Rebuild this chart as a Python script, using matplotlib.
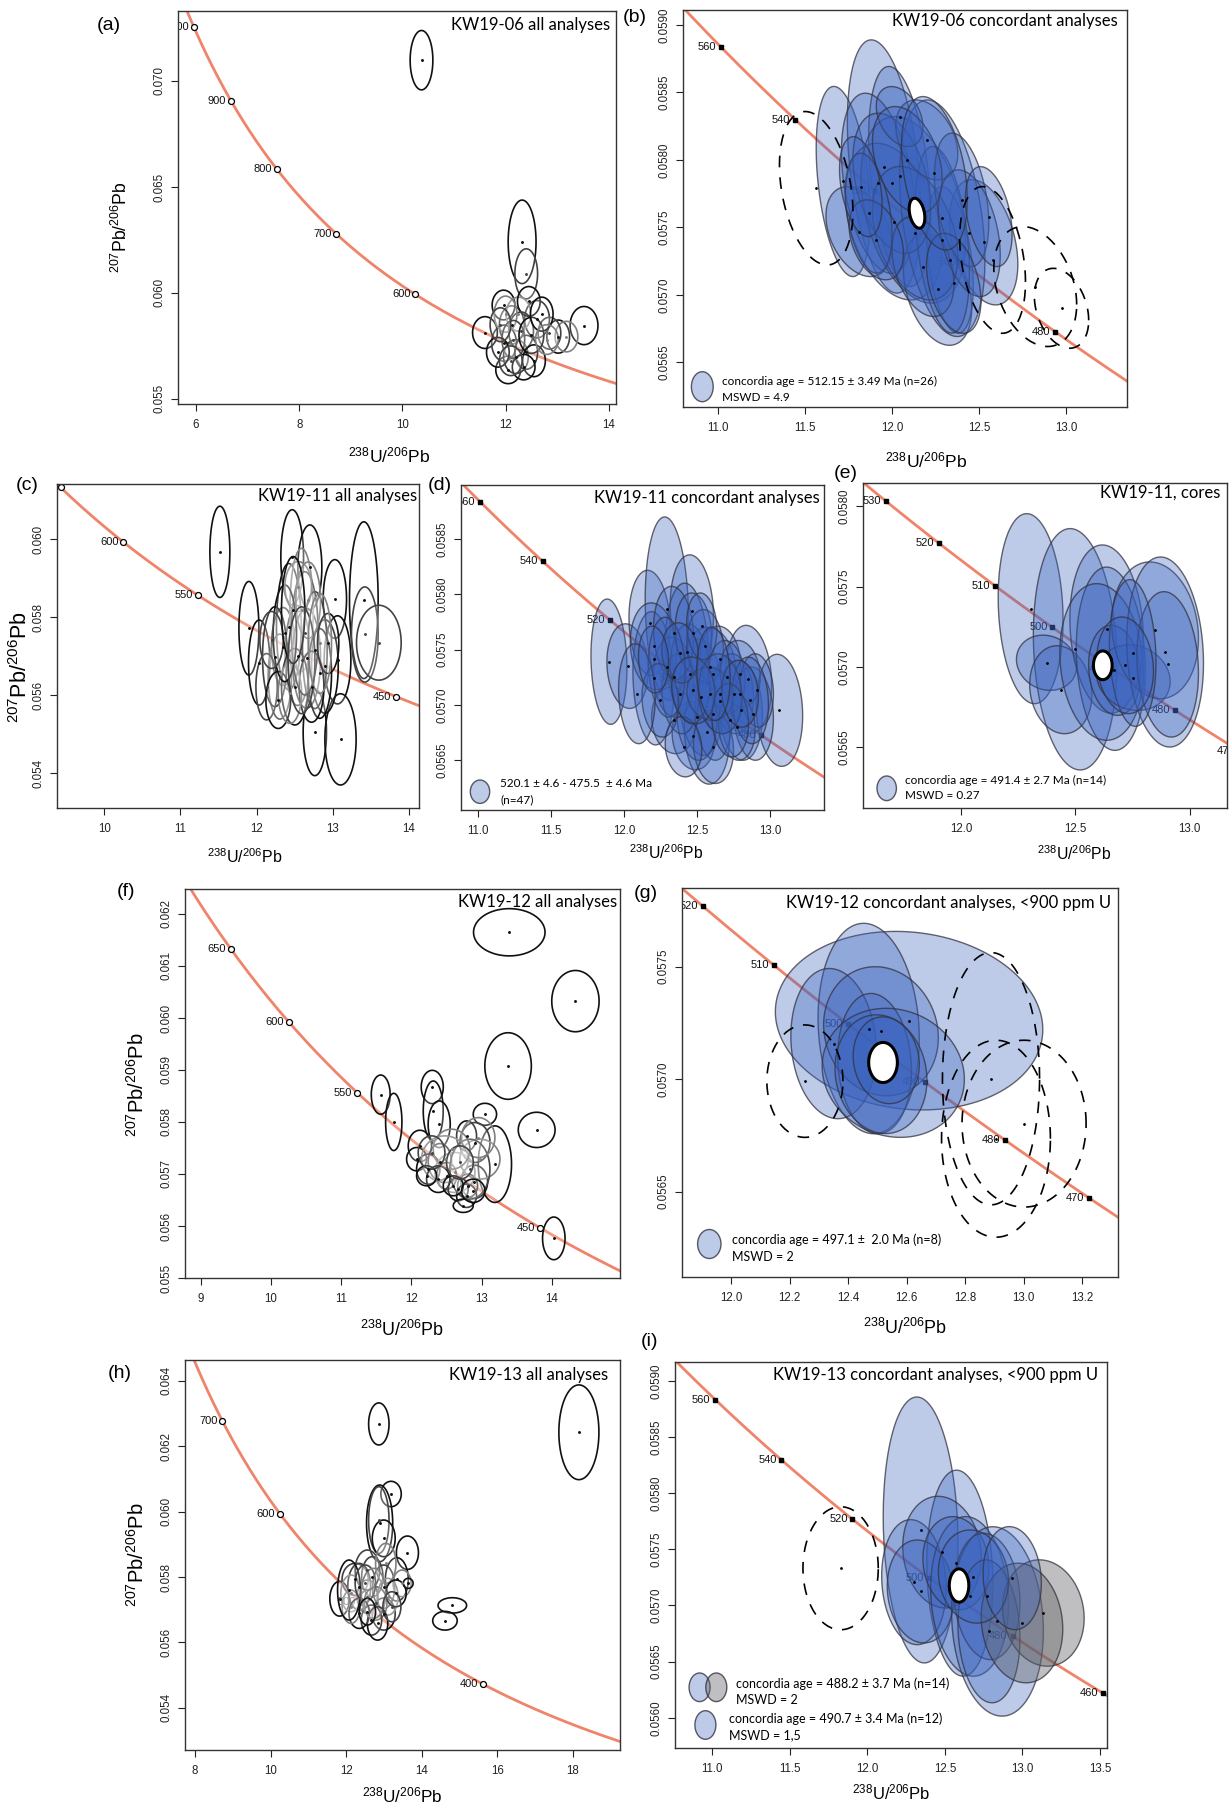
import numpy as np
import matplotlib
matplotlib.use("Agg")
import matplotlib.pyplot as plt
from matplotlib import transforms
from matplotlib.patches import Ellipse

plt.rcParams['font.family'] = ['Liberation Sans', 'DejaVu Sans']
plt.rcParams['mathtext.default'] = 'regular'
SANS2 = ['Lato', 'DejaVu Sans']

W, H = 1229, 1803

# Tera-Wasserburg concordia constants
L238 = 1.55125e-10
L235 = 9.8485e-10
U85 = 137.818

CONC = '#f0846a'
FILL = (0.22, 0.38, 0.74, 0.33)
GREYFILL = (0.38, 0.38, 0.40, 0.40)
EDGE = ['#111111', '#444444', '#808080']

# ---------------- (a) KW19-06 all analyses ----------------
A_X = [10.37, 12.32, 12.40, 13.52, 13.02, 13.18, 12.61, 12.12, 11.97, 11.60, 12.05, 11.96, 12.25, 12.45,
       12.20, 12.40, 12.85, 12.30, 12.00, 12.15, 12.50, 11.85, 12.55, 12.70, 12.35, 12.80, 12.10, 11.90]
A_Y = [0.07098, 0.06241, 0.06090, 0.05846, 0.05794, 0.05794, 0.05876, 0.05849, 0.05763, 0.05813, 0.05637,
       0.05943, 0.05900, 0.05960, 0.05700, 0.05720, 0.05810, 0.05820, 0.05900, 0.05780, 0.05800, 0.05720,
       0.05680, 0.05900, 0.05650, 0.05780, 0.05680, 0.05850]
A_SX = [0.22, 0.27, 0.22, 0.27, 0.22, 0.22, 0.24, 0.24, 0.24, 0.24, 0.24, 0.22, 0.24, 0.22, 0.24, 0.22,
        0.22, 0.24, 0.22, 0.22, 0.24, 0.22, 0.22, 0.22, 0.22, 0.22, 0.22, 0.20]
A_SY = [0.00140, 0.00197, 0.00118, 0.00090, 0.00078, 0.00072, 0.00088, 0.00090, 0.00085, 0.00075, 0.00065,
        0.00070, 0.00080, 0.00070, 0.00080, 0.00080, 0.00075, 0.00090, 0.00085, 0.00090, 0.00085, 0.00070,
        0.00075, 0.00080, 0.00060, 0.00070, 0.00070, 0.00080]
A_G = [0, 0, 1, 0, 0, 2, 0, 0, 0, 0, 0, 0, 2, 0, 0, 0, 1, 1, 2, 1, 0, 0, 0, 0, 0, 2, 1, 1]
A_AGES = [1000, 900, 800, 700, 600]

# ---------------- (b) KW19-06 concordant ----------------
B_X = [11.721, 11.955, 12.044, 11.810, 11.921, 12.010, 12.122, 12.262, 12.333, 12.527, 12.289, 12.289, 11.999,
       12.133, 12.200, 12.044, 12.400, 11.866, 12.178, 12.444, 12.088, 11.910, 12.355, 12.244, 12.556, 11.821]
B_Y = [0.057840, 0.057951, 0.057877, 0.057469, 0.057827, 0.057543, 0.057630, 0.057042, 0.057259, 0.057390,
       0.057568, 0.057408, 0.057827, 0.057457, 0.058148, 0.058321, 0.057704, 0.057605, 0.057210, 0.057457,
       0.058000, 0.057408, 0.057086, 0.057901, 0.057580, 0.057802]
B_SX = [0.156, 0.211, 0.178, 0.189, 0.211, 0.278, 0.300, 0.196, 0.134, 0.196, 0.245, 0.156, 0.223, 0.245,
        0.178, 0.134, 0.156, 0.134, 0.178, 0.178, 0.200, 0.156, 0.156, 0.189, 0.134, 0.122]
B_SY = [0.000704, 0.000938, 0.000815, 0.000333, 0.000667, 0.000580, 0.000691, 0.000415, 0.000543, 0.000464,
        0.000876, 0.000691, 0.000519, 0.000494, 0.000296, 0.000222, 0.000494, 0.000444, 0.000370, 0.000469,
        0.000395, 0.000296, 0.000370, 0.000568, 0.000370, 0.000370]
BD_X = [11.565, 12.823, 12.578, 12.974]
BD_Y = [0.057790, 0.057062, 0.057259, 0.056901]
BD_SX = [0.211, 0.238, 0.189, 0.156]
BD_SY = [0.000568, 0.000444, 0.000543, 0.000296]
B_AGE = (12.144, 0.057605, 0.045, 0.000111)
B_AGES = [560, 540, 520, 500, 480]

# ---------------- (c) KW19-11 all analyses ----------------
C_X = [11.517, 11.898, 12.033, 12.466, 12.698, 13.026, 13.061, 13.406, 13.419, 13.603, 12.763, 13.100, 12.348,
       12.536, 12.422, 12.304, 12.654, 12.895, 12.239, 12.589, 12.763, 12.829, 12.130, 12.501, 12.283, 12.720,
       12.436, 12.632, 12.370, 12.195, 12.938, 12.545, 12.676, 12.479, 12.589, 12.829]
C_Y = [0.05968, 0.05772, 0.05684, 0.05954, 0.05928, 0.05847, 0.05691, 0.05844, 0.05756, 0.05735, 0.05505,
       0.05487, 0.05725, 0.05702, 0.05776, 0.05648, 0.05695, 0.05674, 0.05699, 0.05819, 0.05716, 0.05656,
       0.05622, 0.05622, 0.05588, 0.05622, 0.05605, 0.05759, 0.05759, 0.05742, 0.05733, 0.05879, 0.05844,
       0.05819, 0.05690, 0.05733]
C_SX = [0.131, 0.131, 0.140, 0.149, 0.157, 0.153, 0.175, 0.188, 0.175, 0.293, 0.153, 0.205, 0.153, 0.162,
        0.162, 0.153, 0.184, 0.175, 0.162, 0.153, 0.162, 0.153, 0.140, 0.175, 0.162, 0.162, 0.153, 0.175,
        0.153, 0.153, 0.140, 0.175, 0.162, 0.153, 0.175, 0.153]
C_SY = [0.00117, 0.00120, 0.00109, 0.00122, 0.00109, 0.00101, 0.00113, 0.00201, 0.00122, 0.00096, 0.00111,
        0.00117, 0.00100, 0.00128, 0.00162, 0.00109, 0.00128, 0.00120, 0.00128, 0.00158, 0.00150, 0.00115,
        0.00085, 0.00098, 0.00073, 0.00091, 0.00077, 0.00158, 0.00124, 0.00073, 0.00077, 0.00064, 0.00098,
        0.00137, 0.00137, 0.00128]
C_G = [0, 0, 0, 0, 0, 0, 0, 0, 1, 1, 0, 0, 0, 0, 0, 1, 0, 0, 0, 2, 0, 0, 1, 0, 0, 0, 2, 1, 0, 1, 0, 2, 2, 0, 1, 2]
C_AGES = [650, 600, 550, 450]

# ---------------- (d) KW19-11 concordant ----------------
D_X = [11.898, 12.025, 12.176, 12.294, 12.465, 12.203, 12.431, 12.340, 12.476, 12.529, 12.659, 12.800, 12.852,
       13.064, 12.568, 12.590, 12.340, 12.203, 12.659, 12.750, 12.886, 12.613, 12.499, 12.385, 12.454, 12.340,
       12.476, 12.556, 12.704, 12.795, 12.909, 12.294, 12.249, 12.613, 12.408, 12.773, 12.864, 12.089, 12.533,
       12.590, 12.659, 12.385, 12.727, 12.476, 12.795, 12.203, 12.613]
D_Y = [0.05739, 0.05735, 0.05774, 0.05787, 0.05785, 0.05724, 0.05748, 0.05686, 0.05672, 0.05707, 0.05703,
       0.05695, 0.05723, 0.05695, 0.05675, 0.05734, 0.05725, 0.05753, 0.05741, 0.05710, 0.05692, 0.05692,
       0.05689, 0.05710, 0.05728, 0.05765, 0.05765, 0.05753, 0.05725, 0.05728, 0.05713, 0.05734, 0.05704,
       0.05662, 0.05662, 0.05680, 0.05704, 0.05710, 0.05771, 0.05710, 0.05710, 0.05747, 0.05686, 0.05713,
       0.05710, 0.05741, 0.05728]
D_SX = [0.123, 0.141, 0.141, 0.148, 0.148, 0.141, 0.148, 0.150, 0.146, 0.153, 0.148, 0.148, 0.159, 0.159,
        0.155, 0.175, 0.137, 0.159, 0.137, 0.137, 0.137, 0.125, 0.137, 0.125, 0.137, 0.137, 0.125, 0.125,
        0.125, 0.137, 0.114, 0.125, 0.125, 0.137, 0.125, 0.125, 0.125, 0.125, 0.103, 0.159, 0.148, 0.125,
        0.125, 0.148, 0.125, 0.103, 0.114]
D_SY = [0.000567, 0.000383, 0.000477, 0.000830, 0.000507, 0.000603, 0.000621, 0.000302, 0.000308, 0.000528,
        0.000287, 0.000452, 0.000489, 0.000507, 0.000468, 0.000362, 0.000362, 0.000392, 0.000302, 0.000362,
        0.000422, 0.000422, 0.000392, 0.000362, 0.000452, 0.000422, 0.000362, 0.000332, 0.000332, 0.000302,
        0.000332, 0.000452, 0.000332, 0.000332, 0.000272, 0.000302, 0.000392, 0.000452, 0.000302, 0.000241,
        0.000362, 0.000272, 0.000332, 0.000302, 0.000302, 0.000302, 0.000422]
D_AGES = [560, 540, 520, 500, 480]

# ---------------- (e) KW19-11 cores ----------------
E_X = [12.304, 12.499, 12.374, 12.436, 12.637, 12.655, 12.615, 12.671, 12.754, 12.849, 12.893, 12.904, 12.751, 12.718]
E_Y = [0.057362, 0.057109, 0.057025, 0.056857, 0.057235, 0.057050, 0.057030, 0.056978, 0.056932, 0.057227,
       0.057092, 0.057015, 0.057086, 0.057009]
E_SX = [0.142, 0.183, 0.132, 0.136, 0.161, 0.151, 0.183, 0.113, 0.161, 0.190, 0.168, 0.135, 0.102, 0.124]
E_SY = [0.000592, 0.000752, 0.000172, 0.000274, 0.000524, 0.000571, 0.000488, 0.000281, 0.000204, 0.000426,
        0.000592, 0.000453, 0.000457, 0.000301]
E_AGE = (12.620, 0.057009, 0.041, 0.0000894)
E_AGES = [530, 520, 510, 500, 490, 480, 470]

# ---------------- (f) KW19-12 all analyses ----------------
F_X = [13.395, 14.337, 13.378, 13.785, 14.029, 11.564, 11.750, 12.298, 12.312, 12.397, 12.122, 13.048, 13.190,
       12.906, 12.787, 12.896, 12.801, 12.407, 12.075, 12.241, 12.502, 12.621, 12.478, 12.668, 12.787, 12.977,
       12.834, 12.383, 12.597, 12.217, 12.739, 12.953, 12.573, 12.288, 12.882, 12.692]
F_Y = [0.061648, 0.060324, 0.059076, 0.057848, 0.055762, 0.058526, 0.058001, 0.058673, 0.058212, 0.057956,
       0.057540, 0.058148, 0.057189, 0.057605, 0.057732, 0.056850, 0.056773, 0.057233, 0.057285, 0.057093,
       0.056965, 0.057029, 0.057285, 0.056709, 0.056581, 0.057285, 0.057093, 0.056901, 0.056773, 0.056965,
       0.056389, 0.057700, 0.057477, 0.057413, 0.056677, 0.057221]
F_SX = [0.509, 0.337, 0.331, 0.262, 0.160, 0.134, 0.116, 0.157, 0.142, 0.157, 0.166, 0.166, 0.237, 0.214,
        0.142, 0.190, 0.142, 0.166, 0.142, 0.166, 0.142, 0.285, 0.332, 0.142, 0.142, 0.285, 0.285, 0.166,
        0.142, 0.142, 0.142, 0.237, 0.261, 0.190, 0.166, 0.190]
F_SY = [0.000454, 0.000589, 0.000640, 0.000339, 0.000410, 0.000377, 0.000550, 0.000320, 0.000576, 0.000448,
        0.000301, 0.000211, 0.000736, 0.000384, 0.000288, 0.000320, 0.000224, 0.000352, 0.000224, 0.000288,
        0.000256, 0.000384, 0.000448, 0.000224, 0.000224, 0.000384, 0.000576, 0.000256, 0.000192, 0.000192,
        0.000128, 0.000384, 0.000384, 0.000320, 0.000224, 0.000320]
F_G = [0, 0, 0, 0, 0, 0, 0, 0, 0, 0, 0, 0, 0, 0, 0, 0, 0, 0, 0, 0, 0, 2, 2, 0, 0, 2, 1, 0, 0, 0, 0, 2, 2, 1, 0, 1]
F_AGES = [650, 600, 550, 450]

# ---------------- (g) KW19-12 concordant, <900 ppm U ----------------
G_X = [12.608, 12.470, 12.350, 12.512, 12.490, 12.554, 12.512, 12.530]
G_Y = [0.057260, 0.057225, 0.057158, 0.057213, 0.057069, 0.057028, 0.057022, 0.057084]
G_SX = [0.457, 0.173, 0.146, 0.196, 0.126, 0.243, 0.157, 0.113]
G_SY = [0.000397, 0.000468, 0.000334, 0.000287, 0.000312, 0.000287, 0.000264, 0.000193]
GD_X = [12.252, 13.001, 12.888, 12.905]
GD_Y = [0.056991, 0.056802, 0.057002, 0.056735]
GD_SX = [0.130, 0.212, 0.166, 0.186]
GD_SY = [0.000250, 0.000371, 0.000561, 0.000438]
G_AGE = (12.519, 0.057074, 0.049, 0.0000891)
G_AGES = [520, 510, 500, 490, 480, 470]

# ---------------- (h) KW19-13 all analyses ----------------
H_X = [12.865, 18.162, 13.189, 12.886, 12.865, 14.811, 14.616, 13.622, 12.238, 11.827, 12.692, 12.995, 13.341,
       12.995, 12.995, 13.481, 12.346, 12.562, 12.130, 12.778, 12.670, 13.103, 12.562, 12.346, 12.130, 12.832,
       12.076, 13.049, 13.319, 12.508, 13.643, 12.724, 12.562, 13.211]
H_Y = [0.062684, 0.062429, 0.060541, 0.059643, 0.059745, 0.057133, 0.056664, 0.058745, 0.057929, 0.057337,
       0.058011, 0.057705, 0.057929, 0.056868, 0.059184, 0.057807, 0.057705, 0.057399, 0.057501, 0.057194,
       0.056684, 0.057399, 0.058215, 0.056888, 0.057092, 0.056582, 0.057603, 0.058419, 0.057501, 0.057807,
       0.057807, 0.057501, 0.056940, 0.057092]
H_SX = [0.270, 0.530, 0.270, 0.346, 0.270, 0.378, 0.324, 0.292, 0.346, 0.259, 0.281, 0.292, 0.303, 0.303,
        0.303, 0.238, 0.303, 0.270, 0.270, 0.303, 0.270, 0.270, 0.324, 0.270, 0.238, 0.270, 0.303, 0.270,
        0.270, 0.270, 0.130, 0.324, 0.216, 0.238]
H_SY = [0.000643, 0.001449, 0.000388, 0.001173, 0.001020, 0.000235, 0.000286, 0.000510, 0.000490, 0.000531,
        0.000612, 0.000663, 0.000663, 0.000490, 0.000561, 0.000408, 0.000714, 0.000510, 0.000561, 0.000510,
        0.000459, 0.000561, 0.000612, 0.000459, 0.000510, 0.000510, 0.000918, 0.000612, 0.000408, 0.000561,
        0.000153, 0.000765, 0.000408, 0.000459]
H_G = [0, 0, 0, 0, 1, 0, 0, 0, 0, 0, 0, 0, 0, 0, 0, 2, 0, 1, 2, 1, 0, 2, 1, 0, 2, 0, 0, 2, 0, 1, 0, 2, 0, 1]
H_AGES = [700, 600, 500, 400]

# ---------------- (i) KW19-13 concordant, <900 ppm U ----------------
I_X = [12.343, 12.596, 12.300, 12.481, 12.343, 12.659, 12.571, 12.839, 12.771, 12.784, 13.135, 12.997, 12.684, 12.934]
I_Y = [0.057673, 0.057288, 0.057208, 0.057475, 0.057125, 0.057081, 0.057377, 0.056858, 0.057081, 0.056770,
       0.056933, 0.056844, 0.057258, 0.057244]
I_SX = [0.241, 0.213, 0.208, 0.253, 0.215, 0.251, 0.213, 0.296, 0.213, 0.200, 0.263, 0.263, 0.226, 0.188]
I_SY = [0.001185, 0.000918, 0.000557, 0.000498, 0.000459, 0.000711, 0.000415, 0.000844, 0.000563, 0.000637,
        0.000474, 0.000533, 0.000415, 0.000459]
I_GREY = [0, 0, 0, 0, 0, 0, 0, 0, 0, 0, 1, 1, 0, 0]
ID_X, ID_Y, ID_SX, ID_SY = [11.827], [0.057332], [0.243], [0.000548]
I_AGE = (12.591, 0.057178, 0.063, 0.000148)
I_AGES = [560, 540, 520, 500, 480, 460]


def tw(ages):
    t = np.asarray(ages, dtype=float) * 1e6
    e8 = np.exp(L238 * t) - 1
    e5 = np.exp(L235 * t) - 1
    return 1 / e8, e5 / e8 / U85


def ell_xy(cx, cy, sx, sy, rho):
    t = np.linspace(0, 2 * np.pi, 140)
    return cx + sx * np.cos(t), cy + sy * (rho * np.cos(t) + np.sqrt(1 - rho ** 2) * np.sin(t))


fig = plt.figure(figsize=(W / 100, H / 100), dpi=100)


def fx(px):
    return px / W


def fy(py):
    return 1 - py / H


def frame(box, xlim, ylim, xt, xfmt, yt, yfmt):
    l, t, r, b = box
    ax = fig.add_axes([l / W, 1 - b / H, (r - l) / W, (b - t) / H])
    ax.set_xlim(xlim)
    ax.set_ylim(ylim)
    ax.set_xticks(xt, [xfmt.format(v) for v in xt])
    ax.set_yticks(yt, [yfmt.format(v) for v in yt], rotation=90, va='center')
    ax.tick_params(direction='out', length=5, width=0.8, labelsize=8.3, colors='#222222')
    ax.tick_params(axis='x', pad=6)
    ax.tick_params(axis='y', pad=4)
    for s in ax.spines.values():
        s.set_linewidth(1.0)
        s.set_color('#333333')
    return ax


def concordia(ax, ages, open_marker):
    cx, cy = tw(np.linspace(250, 1400, 3000))
    ax.plot(cx, cy, color=CONC, lw=2, zorder=1)
    mx, my = tw(ages)
    if open_marker:
        ax.plot(mx, my, 'o', mfc='white', mec='black', ms=4.3, mew=0.9, zorder=2)
    else:
        ax.plot(mx, my, 's', color='black', ms=3.2, zorder=2)
    off = transforms.offset_copy(ax.transData, fig=fig, x=-3.5, y=0, units='points')
    for a, x, y in zip(ages, mx, my):
        ax.text(x, y, str(a), transform=off, ha='right', va='center', fontsize=8,
                color='#111111', clip_on=True, zorder=2)


def open_ellipses(ax, xs, ys, sxs, sys_, gs):
    for x, y, sx, sy, g in zip(xs, ys, sxs, sys_, gs):
        ex, ey = ell_xy(x, y, sx, sy, 0.0)
        ax.fill(ex, ey, fc=(1, 1, 1, 0.2), ec=EDGE[g], lw=1.2, zorder=3)
        ax.plot(x, y, '.', color=EDGE[g], ms=2.2, zorder=4)


def filled_ellipses(ax, xs, ys, sxs, sys_, rho, greys=None):
    for k, (x, y, sx, sy) in enumerate(zip(xs, ys, sxs, sys_)):
        ex, ey = ell_xy(x, y, sx, sy, rho)
        fc = GREYFILL if (greys is not None and greys[k]) else FILL
        ax.fill(ex, ey, fc=fc, ec=(0.2, 0.2, 0.25, 0.75), lw=1.0, zorder=3)
    ax.plot(xs, ys, '.', color='black', ms=2, zorder=4)


def dashed_ellipses(ax, xs, ys, sxs, sys_, rho):
    for x, y, sx, sy in zip(xs, ys, sxs, sys_):
        ex, ey = ell_xy(x, y, sx, sy, rho)
        ax.plot(ex, ey, color='black', lw=1.2, ls=(0, (7, 6)), zorder=4)
    ax.plot(xs, ys, '.', color='black', ms=2, zorder=4)


def age_ellipse(ax, e, rho):
    ex, ey = ell_xy(*e, rho)
    ax.fill(ex, ey, fc='white', ec='black', lw=2.2, zorder=6)


def legend_icon(px, py, hw, hh, fc):
    fig.patches.append(Ellipse((fx(px), fy(py)), 2 * hw / W, 2 * hh / H, transform=fig.transFigure,
                               fc=fc, ec=(0.2, 0.2, 0.25, 0.8), lw=1.0))


def ftext(px, py, s, size, ha='left', family=None, **kw):
    fig.text(fx(px), fy(py), s, ha=ha, va='center', fontsize=size,
             family=family if family else SANS2, **kw)


XL = r'$^{238}$U/$^{206}$Pb'
YL = r'$^{207}$Pb/$^{206}$Pb'
LET = ['Liberation Sans', 'DejaVu Sans']

# (a)
ax = frame((178, 11, 616, 404), (5.65, 14.14), (0.05476, 0.0733),
           [6, 8, 10, 12, 14], '{:.0f}', [0.055, 0.060, 0.065, 0.070], '{:.3f}')
concordia(ax, A_AGES, True)
open_ellipses(ax, A_X, A_Y, A_SX, A_SY, A_G)
ftext(610, 25, 'KW19-06 all analyses', 12, ha='right')
ftext(109, 25, '(a)', 14, ha='center', family=LET)
ftext(389, 455, XL, 12.6, ha='center', family=LET)
ftext(121, 227, YL, 12.7, ha='center', family=LET, rotation=90)

# (b)
ax = frame((683, 10, 1127, 407), (10.80, 13.35), (0.05617, 0.05911),
           [11.0, 11.5, 12.0, 12.5, 13.0], '{:.1f}', [0.0565, 0.0570, 0.0575, 0.0580, 0.0585, 0.0590], '{:.4f}')
concordia(ax, B_AGES, False)
filled_ellipses(ax, B_X, B_Y, B_SX, B_SY, -0.35)
dashed_ellipses(ax, BD_X, BD_Y, BD_SX, BD_SY, -0.3)
age_ellipse(ax, B_AGE, -0.3)
ftext(1118, 21, 'KW19-06 concordant analyses', 12, ha='right')
ftext(635, 17, '(b)', 14, ha='center', family=LET)
ftext(926, 460, XL, 12.6, ha='center', family=LET)
legend_icon(702.3, 386.7, 10.9, 15, FILL)
ftext(721.7, 381.7, 'concordia age = 512.15 ± 3.49 Ma (n=26)', 8.5)
ftext(721.7, 397.3, 'MSWD = 4.9', 8.5)

# (c)
ax = frame((57, 484, 419, 808), (9.38, 14.13), (0.05311, 0.06142),
           [10, 11, 12, 13, 14], '{:.0f}', [0.054, 0.056, 0.058, 0.060], '{:.3f}')
concordia(ax, C_AGES, True)
open_ellipses(ax, C_X, C_Y, C_SX, C_SY, C_G)
ftext(417, 496, 'KW19-11 all analyses', 12, ha='right')
ftext(27, 485, '(c)', 14, ha='center', family=LET)
ftext(245, 857, XL, 11.5, ha='center', family=LET)
ftext(21, 667, YL, 15.5, ha='center', family=LET, rotation=90)

# (d)
ax = frame((461, 485, 824, 810), (10.886, 13.369), (0.056048, 0.058989),
           [11.0, 11.5, 12.0, 12.5, 13.0], '{:.1f}', [0.0565, 0.0570, 0.0575, 0.0580, 0.0585], '{:.4f}')
concordia(ax, D_AGES, False)
filled_ellipses(ax, D_X, D_Y, D_SX, D_SY, -0.1)
ftext(820, 498, 'KW19-11 concordant analyses', 12, ha='right')
ftext(440, 486, '(d)', 14, ha='center', family=LET)
ftext(666, 853, XL, 11.3, ha='center', family=LET)
legend_icon(480, 791.7, 9.7, 11.7, FILL)
ftext(500, 783.3, '520.1 ± 4.6 - 475.5  ± 4.6 Ma', 8.5)
ftext(500, 800, '(n=47)', 8.5)

# (e)
ax = frame((863, 483, 1227, 808), (11.57, 13.164), (0.05612, 0.058145),
           [12.0, 12.5, 13.0], '{:.1f}', [0.0565, 0.0570, 0.0575, 0.0580], '{:.4f}')
concordia(ax, E_AGES, False)
filled_ellipses(ax, E_X, E_Y, E_SX, E_SY, -0.12)
age_ellipse(ax, E_AGE, 0.0)
ftext(1220, 493, 'KW19-11, cores', 12, ha='right')
ftext(846, 473, '(e)', 14, ha='center', family=LET)
ftext(1074, 854, XL, 11.3, ha='center', family=LET)
legend_icon(886.7, 788.3, 9.7, 12.3, FILL)
ftext(905, 780.7, 'concordia age = 491.4 ± 2.7 Ma (n=14)', 8.5)
ftext(905, 795, 'MSWD = 0.27', 8.5)

# (f)
ax = frame((184.5, 889, 619.6, 1278), (8.77, 14.966), (0.05501, 0.06248),
           [9, 10, 11, 12, 13, 14], '{:.0f}',
           [0.055, 0.056, 0.057, 0.058, 0.059, 0.060, 0.061, 0.062], '{:.3f}')
concordia(ax, F_AGES, True)
open_ellipses(ax, F_X, F_Y, F_SX, F_SY, F_G)
ftext(617, 902, 'KW19-12 all analyses', 12, ha='right')
ftext(126, 892, '(f)', 14, ha='center', family=LET)
ftext(402, 1330, XL, 12.9, ha='center', family=LET)
ftext(137, 1085, YL, 14.5, ha='center', family=LET, rotation=90)

# (g)
ax = frame((682, 888, 1118, 1277), (11.832, 13.322), (0.05612, 0.05785),
           [12.0, 12.2, 12.4, 12.6, 12.8, 13.0, 13.2], '{:.1f}', [0.0565, 0.0570, 0.0575], '{:.4f}')
concordia(ax, G_AGES, False)
filled_ellipses(ax, G_X, G_Y, G_SX, G_SY, -0.1)
dashed_ellipses(ax, GD_X, GD_Y, GD_SX, GD_SY, 0.0)
age_ellipse(ax, G_AGE, 0.0)
ftext(1111, 903, 'KW19-12 concordant analyses, <900 ppm U', 12, ha='right')
ftext(646, 894, '(g)', 14, ha='center', family=LET)
ftext(905, 1328, XL, 12.9, ha='center', family=LET)
legend_icon(709.3, 1244, 11.7, 14.5, FILL)
ftext(731.8, 1240, 'concordia age = 497.1 ±  2.0 Ma (n=8)', 9)
ftext(731.8, 1256.7, 'MSWD = 2', 9)

# (h)
ax = frame((184.5, 1360, 619.6, 1750), (7.72, 19.24), (0.05271, 0.06464),
           [8, 10, 12, 14, 16, 18], '{:.0f}', [0.054, 0.056, 0.058, 0.060, 0.062, 0.064], '{:.3f}')
concordia(ax, H_AGES, True)
open_ellipses(ax, H_X, H_Y, H_SX, H_SY, H_G)
ftext(608, 1375, 'KW19-13 all analyses', 12, ha='right')
ftext(120, 1373, '(h)', 14, ha='center', family=LET)
ftext(402, 1795, XL, 12.3, ha='center', family=LET)
ftext(137, 1555, YL, 14.5, ha='center', family=LET, rotation=90)

# (i)
ax = frame((675.5, 1362, 1107.4, 1748), (10.762, 13.548), (0.05573, 0.05917),
           [11.0, 11.5, 12.0, 12.5, 13.0, 13.5], '{:.1f}',
           [0.0560, 0.0565, 0.0570, 0.0575, 0.0580, 0.0585, 0.0590], '{:.4f}')
concordia(ax, I_AGES, False)
filled_ellipses(ax, I_X, I_Y, I_SX, I_SY, -0.1, I_GREY)
dashed_ellipses(ax, ID_X, ID_Y, ID_SX, ID_SY, 0.0)
age_ellipse(ax, I_AGE, 0.0)
ftext(1098, 1375, 'KW19-13 concordant analyses, <900 ppm U', 12, ha='right')
ftext(650, 1341, '(i)', 14, ha='center', family=LET)
ftext(891, 1792, XL, 12, ha='center', family=LET)
legend_icon(699.6, 1687.3, 10.5, 14.3, FILL)
legend_icon(716.3, 1687.3, 10.5, 14.3, GREYFILL)
legend_icon(705.4, 1725, 10.5, 14.3, FILL)
ftext(735.7, 1683.3, 'concordia age = 488.2 ± 3.7 Ma (n=14)', 9)
ftext(735.7, 1700, 'MSWD = 2', 9)
ftext(728.7, 1719, 'concordia age = 490.7 ± 3.4 Ma (n=12)', 9)
ftext(728.7, 1735, 'MSWD = 1,5', 9)

fig.savefig('out.png', dpi=100)
